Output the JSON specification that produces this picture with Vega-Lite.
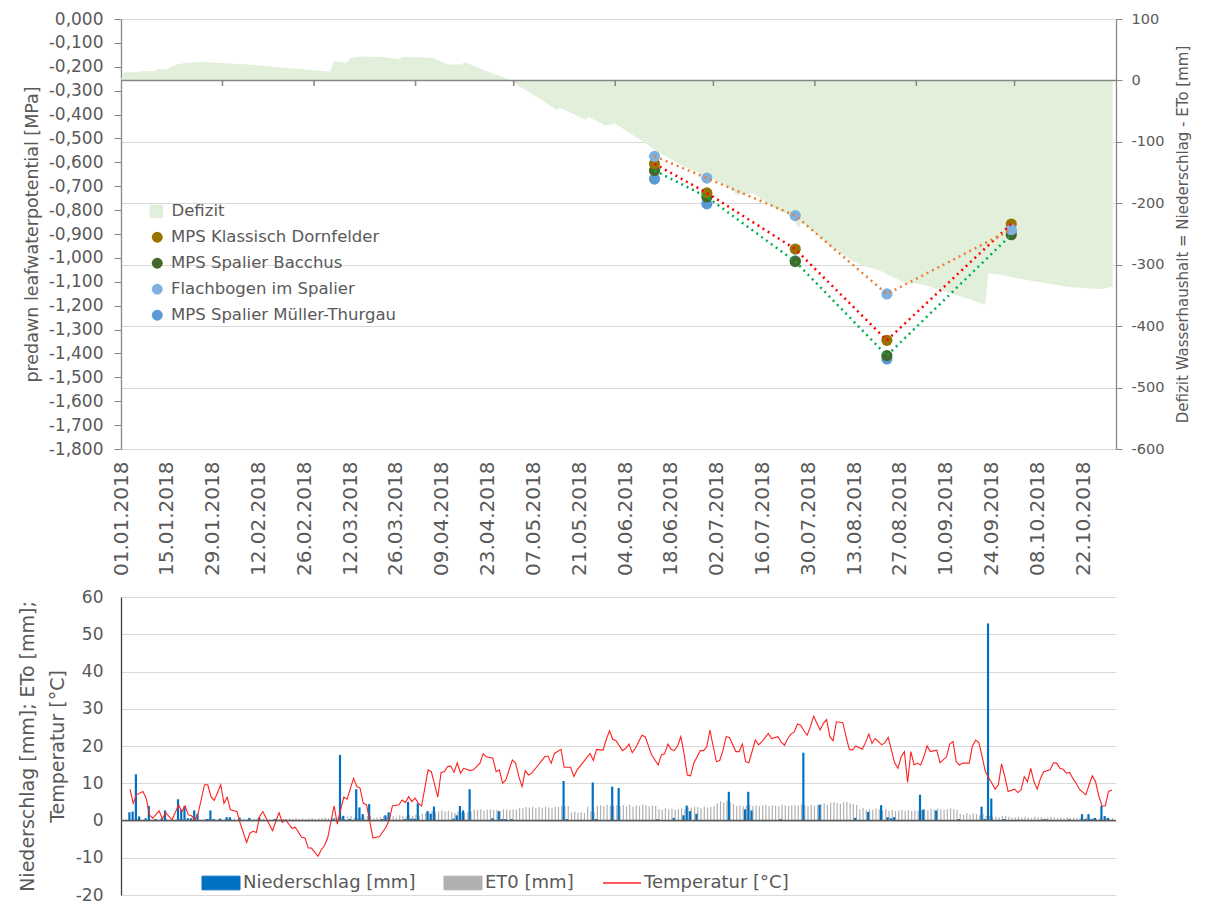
{
"$schema":"https://vega.github.io/schema/vega-lite/v6.json",
"padding":{"left":18,"top":10,"right":5,"bottom":0},
"spacing":12,
"config":{
"font":"DejaVu Sans",
"view":{"stroke":null},
"background":"white",
"axis":{"labelColor":"#595959","titleColor":"#595959","titleFontWeight":"normal","domainColor":"#868686","tickColor":"#868686","gridColor":"#D9D9D9","gridWidth":1,"domainWidth":1.3,"labelOverlap":false},
"legend":{"labelColor":"#595959","labelLimit":0},
"locale":{"number":{"decimal":",","thousands":".","grouping":[3],"currency":[""," €"],"minus":"-"}}
},
"datasets":{
"defizit":[
{"d":"2018-01-01","mm":2},{"d":"2018-01-02","mm":13},{"d":"2018-01-03","mm":13.5},{"d":"2018-01-06","mm":13.5},{"d":"2018-01-07","mm":15},{"d":"2018-01-11","mm":15},{"d":"2018-01-12","mm":18},{"d":"2018-01-15","mm":18},{"d":"2018-01-16","mm":21.7},{"d":"2018-01-18","mm":26},{"d":"2018-01-21","mm":28.8},{"d":"2018-01-26","mm":29.8},{"d":"2018-02-09","mm":26},{"d":"2018-03-05","mm":14.7},{"d":"2018-03-06","mm":14.5},{"d":"2018-03-07","mm":31.5},{"d":"2018-03-11","mm":28.8},{"d":"2018-03-12","mm":36.4},{"d":"2018-03-16","mm":39},{"d":"2018-03-22","mm":38},{"d":"2018-03-27","mm":35},{"d":"2018-03-28","mm":38},{"d":"2018-04-06","mm":37},{"d":"2018-04-11","mm":26},{"d":"2018-04-15","mm":26},{"d":"2018-04-16","mm":29.8},{"d":"2018-04-22","mm":16.3},{"d":"2018-04-26","mm":9},{"d":"2018-04-29","mm":2.7},{"d":"2018-05-01","mm":-4},{"d":"2018-05-09","mm":-30},{"d":"2018-05-14","mm":-47.8},{"d":"2018-05-15","mm":-44.5},{"d":"2018-05-23","mm":-64},{"d":"2018-05-24","mm":-59.7},{"d":"2018-05-29","mm":-73.3},{"d":"2018-06-01","mm":-70.6},{"d":"2018-06-09","mm":-97.7},{"d":"2018-06-14","mm":-116.7},{"d":"2018-06-22","mm":-140},{"d":"2018-07-02","mm":-163},{"d":"2018-07-07","mm":-179},{"d":"2018-07-08","mm":-187},{"d":"2018-07-13","mm":-183.5},{"d":"2018-07-20","mm":-209},{"d":"2018-07-25","mm":-222},{"d":"2018-07-27","mm":-241},{"d":"2018-07-28","mm":-230},{"d":"2018-08-06","mm":-271},{"d":"2018-08-13","mm":-295},{"d":"2018-08-16","mm":-302},{"d":"2018-08-21","mm":-310},{"d":"2018-08-29","mm":-331},{"d":"2018-09-01","mm":-330},{"d":"2018-09-04","mm":-334},{"d":"2018-09-10","mm":-344},{"d":"2018-09-16","mm":-354},{"d":"2018-09-22","mm":-365},{"d":"2018-09-23","mm":-314},{"d":"2018-09-26","mm":-316},{"d":"2018-10-07","mm":-327},{"d":"2018-10-17","mm":-336},{"d":"2018-10-27","mm":-340},{"d":"2018-10-31","mm":-336}
],
"monate":[{"d":"2018-02-01"},{"d":"2018-03-01"},{"d":"2018-04-01"},{"d":"2018-05-01"},{"d":"2018-06-01"},{"d":"2018-07-01"},{"d":"2018-08-01"},{"d":"2018-09-01"},{"d":"2018-10-01"}],
"punkte":[
{"d":"2018-06-13","s":"MPS Spalier Müller-Thurgau","v":-0.670},{"d":"2018-06-29","s":"MPS Spalier Müller-Thurgau","v":-0.774},{"d":"2018-07-26","s":"MPS Spalier Müller-Thurgau","v":-1.012},{"d":"2018-08-23","s":"MPS Spalier Müller-Thurgau","v":-1.423},{"d":"2018-09-30","s":"MPS Spalier Müller-Thurgau","v":-0.889},
{"d":"2018-06-13","s":"MPS Spalier Bacchus","v":-0.634},{"d":"2018-06-29","s":"MPS Spalier Bacchus","v":-0.745},{"d":"2018-07-26","s":"MPS Spalier Bacchus","v":-1.015},{"d":"2018-08-23","s":"MPS Spalier Bacchus","v":-1.409},{"d":"2018-09-30","s":"MPS Spalier Bacchus","v":-0.903},
{"d":"2018-06-13","s":"MPS Klassisch Dornfelder","v":-0.606},{"d":"2018-06-29","s":"MPS Klassisch Dornfelder","v":-0.728},{"d":"2018-07-26","s":"MPS Klassisch Dornfelder","v":-0.963},{"d":"2018-08-23","s":"MPS Klassisch Dornfelder","v":-1.345},{"d":"2018-09-30","s":"MPS Klassisch Dornfelder","v":-0.858},
{"d":"2018-06-13","s":"Flachbogen im Spalier","v":-0.575},{"d":"2018-06-29","s":"Flachbogen im Spalier","v":-0.666},{"d":"2018-07-26","s":"Flachbogen im Spalier","v":-0.823},{"d":"2018-08-23","s":"Flachbogen im Spalier","v":-1.151},{"d":"2018-09-30","s":"Flachbogen im Spalier","v":-0.882}
],
"regen":[
{"d":"2018-01-01","N":2.2},{"d":"2018-01-02","N":2.4},{"d":"2018-01-03","N":12.4},{"d":"2018-01-04","N":1.1},{"d":"2018-01-06","N":0.6},{"d":"2018-01-07","N":3.9},{"d":"2018-01-09","N":0.4},{"d":"2018-01-11","N":0.6},{"d":"2018-01-12","N":2.7},{"d":"2018-01-16","N":5.7},{"d":"2018-01-17","N":2.9},{"d":"2018-01-18","N":3.9},{"d":"2018-01-19","N":0.6},{"d":"2018-01-20","N":0.6},{"d":"2018-01-21","N":2.7},{"d":"2018-01-22","N":1.8},{"d":"2018-01-25","N":0.4},{"d":"2018-01-26","N":2.7},{"d":"2018-01-27","N":0.4},{"d":"2018-01-29","N":0.5},{"d":"2018-01-31","N":0.9},{"d":"2018-02-01","N":0.9},{"d":"2018-02-04","N":0.8},{"d":"2018-02-07","N":0.7},{"d":"2018-02-10","N":0.8},{"d":"2018-02-15","N":0.4},{"d":"2018-03-05","N":0.5},{"d":"2018-03-07","N":17.6},{"d":"2018-03-08","N":1.25},{"d":"2018-03-10","N":0.4},{"d":"2018-03-12","N":8.4},{"d":"2018-03-13","N":3.5},{"d":"2018-03-14","N":1.7},{"d":"2018-03-16","N":4.4},{"d":"2018-03-20","N":0.4},{"d":"2018-03-21","N":1.4},{"d":"2018-03-22","N":2.2},{"d":"2018-03-27","N":0.4},{"d":"2018-03-28","N":5},{"d":"2018-03-29","N":0.5},{"d":"2018-03-30","N":0.5},{"d":"2018-03-31","N":4.6},{"d":"2018-04-03","N":2.5},{"d":"2018-04-04","N":1.8},{"d":"2018-04-05","N":3.75},{"d":"2018-04-11","N":0.5},{"d":"2018-04-12","N":1.4},{"d":"2018-04-13","N":3.9},{"d":"2018-04-14","N":2.7},{"d":"2018-04-16","N":8.4},{"d":"2018-04-23","N":0.6},{"d":"2018-04-25","N":2.5},{"d":"2018-04-26","N":0.4},{"d":"2018-04-27","N":0.4},{"d":"2018-04-29","N":0.4},{"d":"2018-05-15","N":10.6},{"d":"2018-05-16","N":0.4},{"d":"2018-05-24","N":10.2},{"d":"2018-05-25","N":0.4},{"d":"2018-05-30","N":9.1},{"d":"2018-06-01","N":8.7},{"d":"2018-06-13","N":0.4},{"d":"2018-06-18","N":0.7},{"d":"2018-06-21","N":1.4},{"d":"2018-06-22","N":4},{"d":"2018-06-23","N":2.5},{"d":"2018-06-25","N":1.8},{"d":"2018-07-05","N":7.7},{"d":"2018-07-10","N":3},{"d":"2018-07-11","N":7.7},{"d":"2018-07-12","N":2.7},{"d":"2018-07-21","N":0.4},{"d":"2018-07-28","N":18.2},{"d":"2018-08-02","N":4.2},{"d":"2018-08-13","N":0.7},{"d":"2018-08-17","N":2.3},{"d":"2018-08-21","N":4.1},{"d":"2018-08-23","N":0.9},{"d":"2018-08-24","N":0.6},{"d":"2018-08-25","N":0.9},{"d":"2018-09-02","N":6.9},{"d":"2018-09-03","N":2.9},{"d":"2018-09-07","N":2.7},{"d":"2018-09-14","N":0.4},{"d":"2018-09-21","N":3.7},{"d":"2018-09-22","N":0.4},{"d":"2018-09-23","N":52.9},{"d":"2018-09-24","N":5.9},{"d":"2018-09-28","N":0.4},{"d":"2018-10-02","N":0.2},{"d":"2018-10-10","N":0.3},{"d":"2018-10-11","N":0.3},{"d":"2018-10-18","N":0.3},{"d":"2018-10-22","N":1.7},{"d":"2018-10-23","N":0.4},{"d":"2018-10-24","N":1.7},{"d":"2018-10-25","N":0.4},{"d":"2018-10-26","N":0.7},{"d":"2018-10-28","N":3.9},{"d":"2018-10-29","N":1.2},{"d":"2018-10-30","N":0.7}
],
"et0":[
{"d":"2018-01-01","E":0.3},{"d":"2018-01-02","E":0.2},{"d":"2018-01-03","E":0.4},{"d":"2018-01-04","E":0.3},{"d":"2018-01-05","E":0.2},{"d":"2018-01-06","E":0.3},{"d":"2018-01-07","E":0.4},{"d":"2018-01-08","E":0.2},{"d":"2018-01-09","E":0.3},{"d":"2018-01-10","E":0.3},{"d":"2018-01-11","E":0.2},{"d":"2018-01-12","E":0.4},{"d":"2018-01-13","E":0.3},{"d":"2018-01-14","E":0.2},{"d":"2018-01-15","E":0.3},{"d":"2018-01-16","E":0.4},{"d":"2018-01-17","E":0.3},{"d":"2018-01-18","E":0.2},{"d":"2018-01-19","E":0.3},{"d":"2018-01-20","E":0.4},{"d":"2018-01-21","E":0.2},{"d":"2018-01-22","E":0.3},{"d":"2018-01-23","E":0.3},{"d":"2018-01-24","E":0.4},{"d":"2018-01-25","E":0.5},{"d":"2018-01-26","E":0.3},{"d":"2018-01-27","E":0.2},{"d":"2018-01-28","E":0.4},{"d":"2018-01-29","E":0.3},{"d":"2018-01-30","E":0.3},{"d":"2018-01-31","E":0.4},
{"d":"2018-02-01","E":0.4},{"d":"2018-02-02","E":0.5},{"d":"2018-02-03","E":0.3},{"d":"2018-02-04","E":0.4},{"d":"2018-02-05","E":0.5},{"d":"2018-02-06","E":0.4},{"d":"2018-02-07","E":0.3},{"d":"2018-02-08","E":0.5},{"d":"2018-02-09","E":0.4},{"d":"2018-02-10","E":0.6},{"d":"2018-02-11","E":0.5},{"d":"2018-02-12","E":0.4},{"d":"2018-02-13","E":0.3},{"d":"2018-02-14","E":0.5},{"d":"2018-02-15","E":0.6},{"d":"2018-02-16","E":0.4},{"d":"2018-02-17","E":0.5},{"d":"2018-02-18","E":0.4},{"d":"2018-02-19","E":0.6},{"d":"2018-02-20","E":0.5},{"d":"2018-02-21","E":0.7},{"d":"2018-02-22","E":0.5},{"d":"2018-02-23","E":0.6},{"d":"2018-02-24","E":0.4},{"d":"2018-02-25","E":0.6},{"d":"2018-02-26","E":0.7},{"d":"2018-02-27","E":0.5},{"d":"2018-02-28","E":0.6},
{"d":"2018-03-01","E":0.7},{"d":"2018-03-02","E":0.8},{"d":"2018-03-03","E":0.6},{"d":"2018-03-04","E":0.9},{"d":"2018-03-05","E":0.8},{"d":"2018-03-06","E":1.0},{"d":"2018-03-07","E":0.9},{"d":"2018-03-08","E":0.5},{"d":"2018-03-09","E":1.1},{"d":"2018-03-10","E":1.2},{"d":"2018-03-11","E":0.8},{"d":"2018-03-12","E":0.6},{"d":"2018-03-13","E":0.9},{"d":"2018-03-14","E":1.0},{"d":"2018-03-15","E":1.3},{"d":"2018-03-16","E":1.2},{"d":"2018-03-17","E":0.7},{"d":"2018-03-18","E":0.8},{"d":"2018-03-19","E":0.9},{"d":"2018-03-20","E":1.1},{"d":"2018-03-21","E":1.0},{"d":"2018-03-22","E":1.3},{"d":"2018-03-23","E":1.2},{"d":"2018-03-24","E":0.9},{"d":"2018-03-25","E":1.4},{"d":"2018-03-26","E":1.3},{"d":"2018-03-27","E":1.1},{"d":"2018-03-28","E":1.5},{"d":"2018-03-29","E":1.2},{"d":"2018-03-30","E":1.6},{"d":"2018-03-31","E":1.3},
{"d":"2018-04-01","E":1.8},{"d":"2018-04-02","E":2.0},{"d":"2018-04-03","E":2.4},{"d":"2018-04-04","E":2.6},{"d":"2018-04-05","E":2.2},{"d":"2018-04-06","E":2.5},{"d":"2018-04-07","E":2.7},{"d":"2018-04-08","E":2.4},{"d":"2018-04-09","E":2.6},{"d":"2018-04-10","E":2.3},{"d":"2018-04-11","E":2.1},{"d":"2018-04-12","E":2.4},{"d":"2018-04-13","E":2.2},{"d":"2018-04-14","E":2.0},{"d":"2018-04-15","E":2.3},{"d":"2018-04-16","E":2.4},{"d":"2018-04-17","E":2.9},{"d":"2018-04-18","E":2.8},{"d":"2018-04-19","E":3.0},{"d":"2018-04-20","E":2.7},{"d":"2018-04-21","E":2.9},{"d":"2018-04-22","E":3.0},{"d":"2018-04-23","E":2.8},{"d":"2018-04-24","E":2.9},{"d":"2018-04-25","E":2.6},{"d":"2018-04-26","E":3.0},{"d":"2018-04-27","E":2.9},{"d":"2018-04-28","E":2.8},{"d":"2018-04-29","E":3.0},{"d":"2018-04-30","E":2.9},
{"d":"2018-05-01","E":3.4},{"d":"2018-05-02","E":3.3},{"d":"2018-05-03","E":3.6},{"d":"2018-05-04","E":3.5},{"d":"2018-05-05","E":3.7},{"d":"2018-05-06","E":3.3},{"d":"2018-05-07","E":3.6},{"d":"2018-05-08","E":3.4},{"d":"2018-05-09","E":3.7},{"d":"2018-05-10","E":3.5},{"d":"2018-05-11","E":3.3},{"d":"2018-05-12","E":3.6},{"d":"2018-05-13","E":3.7},{"d":"2018-05-14","E":3.9},{"d":"2018-05-15","E":3.8},{"d":"2018-05-16","E":3.9},{"d":"2018-05-17","E":2.2},{"d":"2018-05-18","E":2.4},{"d":"2018-05-19","E":2.1},{"d":"2018-05-20","E":2.3},{"d":"2018-05-21","E":2.0},{"d":"2018-05-22","E":3.7},{"d":"2018-05-23","E":2.4},{"d":"2018-05-24","E":2.2},{"d":"2018-05-25","E":3.9},{"d":"2018-05-26","E":4.1},{"d":"2018-05-27","E":3.8},{"d":"2018-05-28","E":4.2},{"d":"2018-05-29","E":4.0},{"d":"2018-05-30","E":3.9},{"d":"2018-05-31","E":4.1},
{"d":"2018-06-01","E":3.9},{"d":"2018-06-02","E":4.1},{"d":"2018-06-03","E":3.8},{"d":"2018-06-04","E":4.2},{"d":"2018-06-05","E":3.7},{"d":"2018-06-06","E":4.0},{"d":"2018-06-07","E":3.9},{"d":"2018-06-08","E":4.2},{"d":"2018-06-09","E":4.1},{"d":"2018-06-10","E":3.8},{"d":"2018-06-11","E":4.0},{"d":"2018-06-12","E":3.9},{"d":"2018-06-13","E":3.1},{"d":"2018-06-14","E":2.9},{"d":"2018-06-15","E":3.3},{"d":"2018-06-16","E":3.0},{"d":"2018-06-17","E":3.2},{"d":"2018-06-18","E":2.9},{"d":"2018-06-19","E":3.1},{"d":"2018-06-20","E":3.3},{"d":"2018-06-21","E":3.0},{"d":"2018-06-22","E":3.5},{"d":"2018-06-23","E":3.4},{"d":"2018-06-24","E":3.7},{"d":"2018-06-25","E":3.6},{"d":"2018-06-26","E":3.3},{"d":"2018-06-27","E":3.7},{"d":"2018-06-28","E":3.5},{"d":"2018-06-29","E":3.6},{"d":"2018-06-30","E":3.8},
{"d":"2018-07-01","E":4.6},{"d":"2018-07-02","E":5.2},{"d":"2018-07-03","E":4.8},{"d":"2018-07-04","E":5.4},{"d":"2018-07-05","E":4.9},{"d":"2018-07-06","E":4.5},{"d":"2018-07-07","E":3.9},{"d":"2018-07-08","E":4.1},{"d":"2018-07-09","E":3.8},{"d":"2018-07-10","E":4.0},{"d":"2018-07-11","E":4.2},{"d":"2018-07-12","E":3.9},{"d":"2018-07-13","E":4.1},{"d":"2018-07-14","E":3.8},{"d":"2018-07-15","E":4.0},{"d":"2018-07-16","E":4.2},{"d":"2018-07-17","E":3.9},{"d":"2018-07-18","E":4.1},{"d":"2018-07-19","E":4.0},{"d":"2018-07-20","E":3.8},{"d":"2018-07-21","E":4.2},{"d":"2018-07-22","E":4.0},{"d":"2018-07-23","E":3.9},{"d":"2018-07-24","E":4.1},{"d":"2018-07-25","E":4.2},{"d":"2018-07-26","E":4.0},{"d":"2018-07-27","E":4.3},{"d":"2018-07-28","E":4.1},{"d":"2018-07-29","E":3.9},{"d":"2018-07-30","E":4.2},{"d":"2018-07-31","E":4.0},
{"d":"2018-08-01","E":4.2},{"d":"2018-08-02","E":4.4},{"d":"2018-08-03","E":4.6},{"d":"2018-08-04","E":4.3},{"d":"2018-08-05","E":4.8},{"d":"2018-08-06","E":5.0},{"d":"2018-08-07","E":4.7},{"d":"2018-08-08","E":4.5},{"d":"2018-08-09","E":4.9},{"d":"2018-08-10","E":5.0},{"d":"2018-08-11","E":4.6},{"d":"2018-08-12","E":4.4},{"d":"2018-08-13","E":4.2},{"d":"2018-08-14","E":3.0},{"d":"2018-08-15","E":3.3},{"d":"2018-08-16","E":2.8},{"d":"2018-08-17","E":3.1},{"d":"2018-08-18","E":2.9},{"d":"2018-08-19","E":3.2},{"d":"2018-08-20","E":3.0},{"d":"2018-08-21","E":2.7},{"d":"2018-08-22","E":3.1},{"d":"2018-08-23","E":2.6},{"d":"2018-08-24","E":2.8},{"d":"2018-08-25","E":2.5},{"d":"2018-08-26","E":2.7},{"d":"2018-08-27","E":2.9},{"d":"2018-08-28","E":2.6},{"d":"2018-08-29","E":2.8},{"d":"2018-08-30","E":2.5},{"d":"2018-08-31","E":2.7},
{"d":"2018-09-01","E":2.6},{"d":"2018-09-02","E":2.8},{"d":"2018-09-03","E":3.0},{"d":"2018-09-04","E":2.7},{"d":"2018-09-05","E":3.1},{"d":"2018-09-06","E":2.9},{"d":"2018-09-07","E":3.2},{"d":"2018-09-08","E":3.0},{"d":"2018-09-09","E":2.8},{"d":"2018-09-10","E":3.1},{"d":"2018-09-11","E":3.3},{"d":"2018-09-12","E":3.0},{"d":"2018-09-13","E":2.9},{"d":"2018-09-14","E":1.8},{"d":"2018-09-15","E":1.6},{"d":"2018-09-16","E":2.0},{"d":"2018-09-17","E":1.5},{"d":"2018-09-18","E":1.9},{"d":"2018-09-19","E":1.7},{"d":"2018-09-20","E":1.4},{"d":"2018-09-21","E":1.8},{"d":"2018-09-22","E":1.2},{"d":"2018-09-23","E":1.3},{"d":"2018-09-24","E":1.0},{"d":"2018-09-25","E":1.1},{"d":"2018-09-26","E":0.9},{"d":"2018-09-27","E":1.3},{"d":"2018-09-28","E":1.2},{"d":"2018-09-29","E":1.0},{"d":"2018-09-30","E":0.8},
{"d":"2018-10-01","E":0.9},{"d":"2018-10-02","E":1.0},{"d":"2018-10-03","E":0.8},{"d":"2018-10-04","E":1.1},{"d":"2018-10-05","E":0.9},{"d":"2018-10-06","E":0.7},{"d":"2018-10-07","E":1.0},{"d":"2018-10-08","E":0.8},{"d":"2018-10-09","E":0.9},{"d":"2018-10-10","E":0.7},{"d":"2018-10-11","E":0.8},{"d":"2018-10-12","E":1.0},{"d":"2018-10-13","E":0.9},{"d":"2018-10-14","E":0.7},{"d":"2018-10-15","E":0.8},{"d":"2018-10-16","E":0.6},{"d":"2018-10-17","E":0.9},{"d":"2018-10-18","E":0.7},{"d":"2018-10-19","E":0.8},{"d":"2018-10-20","E":0.6},{"d":"2018-10-21","E":0.7},{"d":"2018-10-22","E":0.5},{"d":"2018-10-23","E":0.8},{"d":"2018-10-24","E":0.6},{"d":"2018-10-25","E":0.7},{"d":"2018-10-26","E":0.5},{"d":"2018-10-27","E":0.6},{"d":"2018-10-28","E":0.4},{"d":"2018-10-29","E":0.6},{"d":"2018-10-30","E":0.5},{"d":"2018-10-31","E":0.7}
],
"temp":[
{"d":"2018-01-01","T":8.4},{"d":"2018-01-02","T":4.6},{"d":"2018-01-03","T":6.9},{"d":"2018-01-05","T":7.8},{"d":"2018-01-06","T":6},{"d":"2018-01-07","T":1.5},{"d":"2018-01-08","T":0.6},{"d":"2018-01-10","T":2.6},{"d":"2018-01-11","T":0.4},{"d":"2018-01-12","T":2.1},{"d":"2018-01-14","T":0.2},{"d":"2018-01-16","T":4.2},{"d":"2018-01-17","T":2.4},{"d":"2018-01-18","T":3.9},{"d":"2018-01-19","T":1.5},{"d":"2018-01-20","T":1.25},{"d":"2018-01-21","T":0.2},{"d":"2018-01-22","T":1.8},{"d":"2018-01-24","T":9.6},{"d":"2018-01-25","T":9.6},{"d":"2018-01-26","T":6.4},{"d":"2018-01-27","T":5.4},{"d":"2018-01-29","T":9.6},{"d":"2018-01-30","T":4.6},{"d":"2018-01-31","T":6.25},
{"d":"2018-02-01","T":2.9},{"d":"2018-02-03","T":2.4},{"d":"2018-02-04","T":-0.7},{"d":"2018-02-06","T":-5.9},{"d":"2018-02-07","T":-3.4},{"d":"2018-02-08","T":-2.9},{"d":"2018-02-09","T":-3.2},{"d":"2018-02-10","T":1.1},{"d":"2018-02-11","T":2.4},{"d":"2018-02-12","T":0.6},{"d":"2018-02-14","T":-2.7},{"d":"2018-02-16","T":2.1},{"d":"2018-02-17","T":-0.5},{"d":"2018-02-18","T":0.2},{"d":"2018-02-20","T":-2.1},{"d":"2018-02-21","T":-1.8},{"d":"2018-02-23","T":-4.5},{"d":"2018-02-24","T":-4.7},{"d":"2018-02-25","T":-7.4},{"d":"2018-02-26","T":-7.4},{"d":"2018-02-28","T":-9.6},
{"d":"2018-03-01","T":-7.9},{"d":"2018-03-02","T":-6.8},{"d":"2018-03-03","T":-4.7},{"d":"2018-03-05","T":3.9},{"d":"2018-03-06","T":-1},{"d":"2018-03-07","T":2.9},{"d":"2018-03-08","T":6.25},{"d":"2018-03-09","T":5.7},{"d":"2018-03-11","T":11.3},{"d":"2018-03-12","T":9.1},{"d":"2018-03-13","T":8.7},{"d":"2018-03-14","T":4.6},{"d":"2018-03-15","T":4.2},{"d":"2018-03-17","T":-4.7},{"d":"2018-03-19","T":-4.3},{"d":"2018-03-21","T":-1.8},{"d":"2018-03-22","T":0.2},{"d":"2018-03-23","T":3.9},{"d":"2018-03-25","T":4.2},{"d":"2018-03-26","T":5.5},{"d":"2018-03-27","T":4.8},{"d":"2018-03-28","T":6.4},{"d":"2018-03-29","T":5.1},{"d":"2018-03-30","T":6},{"d":"2018-03-31","T":4.6},
{"d":"2018-04-01","T":3.9},{"d":"2018-04-03","T":13.6},{"d":"2018-04-04","T":13.1},{"d":"2018-04-06","T":6.25},{"d":"2018-04-07","T":12.9},{"d":"2018-04-08","T":13.1},{"d":"2018-04-09","T":14.5},{"d":"2018-04-10","T":14.6},{"d":"2018-04-11","T":12.9},{"d":"2018-04-12","T":15.5},{"d":"2018-04-13","T":12.7},{"d":"2018-04-14","T":14},{"d":"2018-04-16","T":13.4},{"d":"2018-04-17","T":13.6},{"d":"2018-04-19","T":15.4},{"d":"2018-04-20","T":17.9},{"d":"2018-04-21","T":17.1},{"d":"2018-04-23","T":16.7},{"d":"2018-04-24","T":13.1},{"d":"2018-04-25","T":13.6},{"d":"2018-04-26","T":10},{"d":"2018-04-27","T":10.9},{"d":"2018-04-29","T":16.25},{"d":"2018-04-30","T":15.4},
{"d":"2018-05-01","T":11.8},{"d":"2018-05-02","T":9.1},{"d":"2018-05-03","T":13.4},{"d":"2018-05-04","T":12.2},{"d":"2018-05-05","T":12.7},{"d":"2018-05-07","T":14.9},{"d":"2018-05-09","T":17.1},{"d":"2018-05-10","T":17.3},{"d":"2018-05-11","T":15.4},{"d":"2018-05-12","T":18},{"d":"2018-05-14","T":19.1},{"d":"2018-05-15","T":14.3},{"d":"2018-05-17","T":14.3},{"d":"2018-05-18","T":11.8},{"d":"2018-05-19","T":13.6},{"d":"2018-05-21","T":15.8},{"d":"2018-05-23","T":18},{"d":"2018-05-24","T":16.1},{"d":"2018-05-25","T":19.1},{"d":"2018-05-27","T":18.9},{"d":"2018-05-28","T":21.8},{"d":"2018-05-29","T":24.1},{"d":"2018-05-30","T":21.8},{"d":"2018-05-31","T":21.4},
{"d":"2018-06-02","T":18.75},{"d":"2018-06-03","T":19.4},{"d":"2018-06-04","T":20.5},{"d":"2018-06-05","T":18.2},{"d":"2018-06-06","T":19.4},{"d":"2018-06-08","T":22.9},{"d":"2018-06-09","T":22.5},{"d":"2018-06-11","T":17.6},{"d":"2018-06-13","T":14.9},{"d":"2018-06-14","T":17.6},{"d":"2018-06-15","T":17.9},{"d":"2018-06-16","T":20.5},{"d":"2018-06-17","T":19.1},{"d":"2018-06-18","T":18.75},{"d":"2018-06-19","T":20},{"d":"2018-06-20","T":22.5},{"d":"2018-06-21","T":18},{"d":"2018-06-22","T":12.2},{"d":"2018-06-23","T":12},{"d":"2018-06-24","T":15.4},{"d":"2018-06-26","T":18.75},{"d":"2018-06-27","T":18.75},{"d":"2018-06-28","T":19.8},{"d":"2018-06-29","T":24.3},{"d":"2018-06-30","T":19.8},
{"d":"2018-07-01","T":15.8},{"d":"2018-07-02","T":16.1},{"d":"2018-07-03","T":18.75},{"d":"2018-07-04","T":22.5},{"d":"2018-07-05","T":22.3},{"d":"2018-07-07","T":18.5},{"d":"2018-07-08","T":18.5},{"d":"2018-07-09","T":20.5},{"d":"2018-07-10","T":15.8},{"d":"2018-07-11","T":15.5},{"d":"2018-07-13","T":21.6},{"d":"2018-07-14","T":20.3},{"d":"2018-07-15","T":21.2},{"d":"2018-07-17","T":23.4},{"d":"2018-07-18","T":22},{"d":"2018-07-20","T":22.5},{"d":"2018-07-21","T":21},{"d":"2018-07-22","T":20.2},{"d":"2018-07-23","T":22},{"d":"2018-07-24","T":23.2},{"d":"2018-07-25","T":23.8},{"d":"2018-07-26","T":25.9},{"d":"2018-07-27","T":25.6},{"d":"2018-07-28","T":24.1},{"d":"2018-07-29","T":22.9},{"d":"2018-07-30","T":25.2},{"d":"2018-07-31","T":28},
{"d":"2018-08-01","T":26.1},{"d":"2018-08-02","T":24.3},{"d":"2018-08-03","T":26.1},{"d":"2018-08-04","T":27.1},{"d":"2018-08-05","T":22.5},{"d":"2018-08-06","T":21.4},{"d":"2018-08-07","T":26.5},{"d":"2018-08-09","T":26.25},{"d":"2018-08-10","T":22.5},{"d":"2018-08-11","T":19.1},{"d":"2018-08-12","T":18.9},{"d":"2018-08-13","T":20},{"d":"2018-08-15","T":19.1},{"d":"2018-08-16","T":20.9},{"d":"2018-08-17","T":23.2},{"d":"2018-08-18","T":20.7},{"d":"2018-08-19","T":22},{"d":"2018-08-21","T":20.3},{"d":"2018-08-22","T":20.9},{"d":"2018-08-23","T":22.3},{"d":"2018-08-24","T":18.9},{"d":"2018-08-25","T":15.5},{"d":"2018-08-26","T":14},{"d":"2018-08-27","T":17.1},{"d":"2018-08-28","T":18.5},{"d":"2018-08-29","T":10.2},{"d":"2018-08-30","T":18.5},{"d":"2018-08-31","T":14.9},
{"d":"2018-09-01","T":15.4},{"d":"2018-09-02","T":14.9},{"d":"2018-09-03","T":17.1},{"d":"2018-09-04","T":20},{"d":"2018-09-05","T":18.5},{"d":"2018-09-07","T":18.9},{"d":"2018-09-08","T":15.5},{"d":"2018-09-10","T":17.1},{"d":"2018-09-11","T":20.5},{"d":"2018-09-12","T":21.2},{"d":"2018-09-13","T":15.8},{"d":"2018-09-14","T":14.9},{"d":"2018-09-15","T":15.4},{"d":"2018-09-17","T":15.4},{"d":"2018-09-18","T":20},{"d":"2018-09-19","T":21.6},{"d":"2018-09-20","T":20.9},{"d":"2018-09-21","T":17.1},{"d":"2018-09-22","T":13.1},{"d":"2018-09-24","T":10},{"d":"2018-09-25","T":8.4},{"d":"2018-09-26","T":9.6},{"d":"2018-09-27","T":15.2},{"d":"2018-09-28","T":11.8},{"d":"2018-09-29","T":7.8},
{"d":"2018-10-01","T":8.4},{"d":"2018-10-02","T":7.5},{"d":"2018-10-03","T":8.2},{"d":"2018-10-04","T":11.8},{"d":"2018-10-05","T":10.4},{"d":"2018-10-06","T":14},{"d":"2018-10-07","T":10.4},{"d":"2018-10-08","T":8.4},{"d":"2018-10-09","T":11.3},{"d":"2018-10-10","T":13.1},{"d":"2018-10-12","T":13.6},{"d":"2018-10-13","T":15.5},{"d":"2018-10-14","T":15.4},{"d":"2018-10-15","T":14},{"d":"2018-10-16","T":13.75},{"d":"2018-10-17","T":12.7},{"d":"2018-10-18","T":12.9},{"d":"2018-10-19","T":11.3},{"d":"2018-10-20","T":10},{"d":"2018-10-21","T":8.4},{"d":"2018-10-23","T":6.9},{"d":"2018-10-24","T":9.6},{"d":"2018-10-25","T":12},{"d":"2018-10-26","T":10.4},{"d":"2018-10-27","T":6.6},{"d":"2018-10-28","T":3.9},{"d":"2018-10-29","T":3.9},{"d":"2018-10-30","T":7.8},{"d":"2018-10-31","T":8.2}
]
},
"vconcat":[
{
"width":995,"height":430,
"layer":[
{"layer":[
{"data":{"name":"defizit"},"mark":{"type":"area","opacity":1,"interpolate":"linear"},
"encoding":{
"x":{"field":"d","type":"temporal","scale":{"type":"utc","domain":[{"year":2018,"month":1,"date":1,"utc":true},{"year":2018,"month":11,"date":1,"utc":true}]},
"axis":{"values":[{"year":2018,"month":1,"date":1,"utc":true},{"year":2018,"month":1,"date":15,"utc":true},{"year":2018,"month":1,"date":29,"utc":true},{"year":2018,"month":2,"date":12,"utc":true},{"year":2018,"month":2,"date":26,"utc":true},{"year":2018,"month":3,"date":12,"utc":true},{"year":2018,"month":3,"date":26,"utc":true},{"year":2018,"month":4,"date":9,"utc":true},{"year":2018,"month":4,"date":23,"utc":true},{"year":2018,"month":5,"date":7,"utc":true},{"year":2018,"month":5,"date":21,"utc":true},{"year":2018,"month":6,"date":4,"utc":true},{"year":2018,"month":6,"date":18,"utc":true},{"year":2018,"month":7,"date":2,"utc":true},{"year":2018,"month":7,"date":16,"utc":true},{"year":2018,"month":7,"date":30,"utc":true},{"year":2018,"month":8,"date":13,"utc":true},{"year":2018,"month":8,"date":27,"utc":true},{"year":2018,"month":9,"date":10,"utc":true},{"year":2018,"month":9,"date":24,"utc":true},{"year":2018,"month":10,"date":8,"utc":true},{"year":2018,"month":10,"date":22,"utc":true}],
"tickCount":30,"format":"%d.%m.%Y","labelAngle":-90,"labelFontSize":20,"labelPadding":12,"labelDy":4,"domain":false,"ticks":false,"tickSize":0,"grid":false,"title":null,"labelOverlap":false,"labelFlush":false,"labelBound":false}},
"y":{"field":"mm","type":"quantitative","scale":{"domain":[-600,100],"nice":false,"zero":false},
"axis":{"orient":"right","values":[100,0,-100,-200,-300,-400,-500,-600],"tickCount":8,"format":"d","labelFontSize":14.5,"tickSize":6,"labelPadding":9,"grid":true,"title":"Defizit Wasserhaushalt = Niederschlag - ETo [mm]","titleFontSize":15,"titlePadding":12,"titleAngle":-90,"titleBaseline":"top"}},
"y2":{"datum":0},
"fill":{"datum":"Defizit","type":"nominal","scale":{"domain":["Defizit"],"range":["#E2EFDA"]},
"legend":{"orient":"none","legendX":27,"legendY":184,"title":null,"labelFontSize":16.5,"symbolType":"square","symbolSize":180,"labelOffset":7,"symbolStrokeWidth":0}}
}},
{"data":{"values":[{}]},"mark":{"type":"rule","color":"#868686","strokeWidth":1.5},"encoding":{"y":{"datum":0}}},
{"data":{"name":"monate"},"mark":{"type":"rule","color":"#868686","strokeWidth":1.5},"encoding":{"x":{"field":"d","type":"temporal"},"y":{"datum":0},"y2":{"datum":-9}}}
]},
{"layer":[
{"data":{"name":"punkte"},"mark":{"type":"point","filled":true,"size":125,"opacity":1},
"encoding":{
"x":{"field":"d","type":"temporal"},
"y":{"field":"v","type":"quantitative","scale":{"domain":[-1.8,0],"nice":false,"zero":false},
"axis":{"orient":"left","values":[0,-0.1,-0.2,-0.3,-0.4,-0.5,-0.6,-0.7,-0.8,-0.9,-1,-1.1,-1.2,-1.3,-1.4,-1.5,-1.6,-1.7,-1.8],"tickCount":19,"format":".3f","labelFontSize":17,"tickSize":7,"labelPadding":11,"grid":false,"labelOverlap":false,"title":"predawn leafwaterpotential [MPa]","titleFontSize":17.5,"titlePadding":7}},
"color":{"field":"s","type":"nominal",
"scale":{"domain":["MPS Klassisch Dornfelder","MPS Spalier Bacchus","Flachbogen im Spalier","MPS Spalier Müller-Thurgau"],"range":["#997300","#43682B","#7FB0E0","#5B9BD5"]},
"legend":{"orient":"none","legendX":28,"legendY":210,"title":null,"labelFontSize":16.5,"symbolType":"circle","symbolSize":120,"rowPadding":9,"labelOffset":5.5,"symbolStrokeWidth":0,"symbolOpacity":1}}
}},
{"data":{"name":"punkte"},"transform":[{"filter":"datum.s !== 'MPS Spalier Müller-Thurgau'"}],
"mark":{"type":"line","strokeDash":[2,4],"strokeWidth":2.5},
"encoding":{
"x":{"field":"d","type":"temporal"},
"y":{"field":"v","type":"quantitative"},
"stroke":{"field":"s","type":"nominal","scale":{"domain":["Flachbogen im Spalier","MPS Klassisch Dornfelder","MPS Spalier Bacchus"],"range":["#ED7D31","#FF0000","#00B050"]},"legend":null}
}}
]}
],
"resolve":{"scale":{"y":"independent"}}
},
{
"width":995,"height":298,
"layer":[
{"data":{"name":"et0"},"mark":{"type":"bar","width":1.2,"xOffset":4.8},
"encoding":{
"x":{"field":"d","type":"temporal","scale":{"type":"utc","domain":[{"year":2018,"month":1,"date":1,"utc":true},{"year":2018,"month":11,"date":1,"utc":true}]},"axis":null},
"y":{"field":"E","type":"quantitative","scale":{"domain":[-20,60],"nice":false,"zero":false},
"axis":{"values":[-20,-10,0,10,20,30,40,50,60],"tickCount":9,"format":"d","labelFontSize":17,"ticks":false,"labelPadding":18,"grid":true,"labelOverlap":false,"domainColor":"#404040","title":["Niederschlag [mm]; ETo [mm];","Temperatur [°C]"],"titleFontSize":19,"titleLineHeight":30,"titlePadding":8}},
"y2":{"datum":0},
"color":{"datum":"ET0 [mm]","type":"nominal","scale":{"domain":["Niederschlag [mm]","ET0 [mm]","Temperatur [°C]"],"range":["#0070C0","#B0B0B0","#FF2020"]},
"legend":{"orient":"none","direction":"horizontal","legendX":91,"legendY":277,"title":null,"labelFontSize":18,"symbolSize":1444,"columnPadding":26,"labelOffset":13,
"encode":{"symbols":{"update":{
"shape":{"signal":"datum.value === 'Temperatur [°C]' ? 'M-1,0H1' : 'M-1,-0.36H1V0.36H-1Z'"},
"fill":{"signal":"datum.value === 'Niederschlag [mm]' ? '#4472C4' : (datum.value === 'ET0 [mm]' ? '#A5A5A5' : 'transparent')"},
"stroke":{"signal":"datum.value === 'Niederschlag [mm]' ? '#1F64B4' : (datum.value === 'ET0 [mm]' ? '#A5A5A5' : '#FF3030')"},
"strokeWidth":{"signal":"datum.value === 'Temperatur [°C]' ? 1.5 : 1"},
"size":{"value":1444},"opacity":{"value":1}}}}}}
}},
{"data":{"name":"regen"},"mark":{"type":"bar","width":2.2,"xOffset":3.4},
"encoding":{"x":{"field":"d","type":"temporal"},"y":{"field":"N","type":"quantitative"},"y2":{"datum":0},"color":{"datum":"Niederschlag [mm]","type":"nominal"}}},
{"data":{"name":"temp"},"mark":{"type":"line","strokeWidth":1.1,"xOffset":4},
"encoding":{"x":{"field":"d","type":"temporal"},"y":{"field":"T","type":"quantitative"},"color":{"datum":"Temperatur [°C]","type":"nominal"}}},
{"data":{"values":[{}]},"mark":{"type":"rule","color":"#595959","strokeWidth":1.5},"encoding":{"y":{"datum":0}}}
]
}
],
"resolve":{"scale":{"x":"independent","y":"independent","color":"independent","fill":"independent"},"legend":{"color":"independent"}}
}
